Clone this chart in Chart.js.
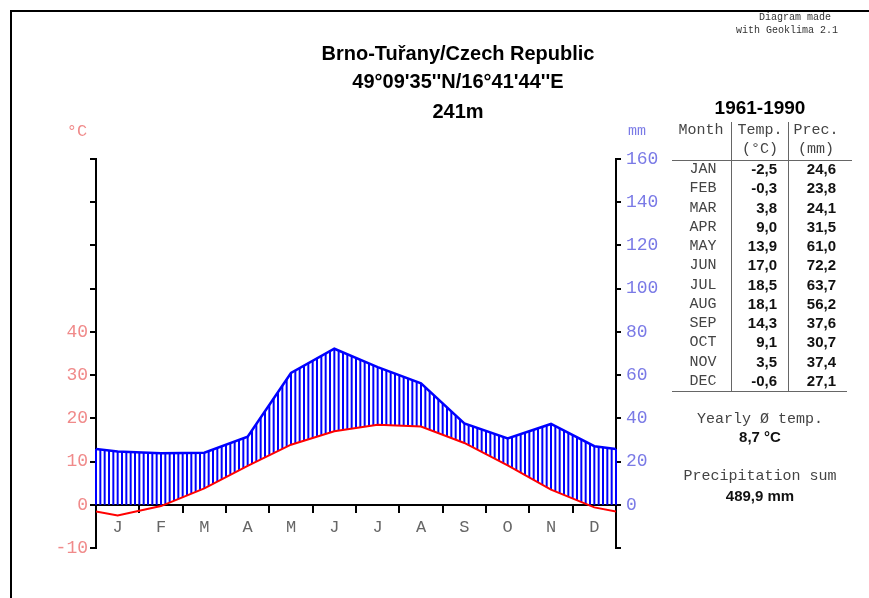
<!DOCTYPE html>
<html>
<head>
<meta charset="utf-8">
<script src="https://cdn.jsdelivr.net/npm/chart.js@4/dist/chart.umd.min.js"></script>
<style>
  body { margin: 0; background: #fff; }
  #page { position: relative; width: 869px; height: 598px; overflow: hidden; }
  #frame { position: absolute; left: 10px; top: 10px; width: 900px; height: 700px;
           border-left: 2px solid #000; border-top: 2px solid #000; }
  #chartBox { position: absolute; left: 0; top: 0; width: 869px; height: 598px; }
  .t { position: absolute; white-space: nowrap; line-height: 20px; height: 20px; }
  .c { transform: translateX(-50%); }
  .r { transform: translateX(-100%); }
  .title { font: bold 20px "Liberation Sans", Arial, sans-serif; color: #000; }
  .mono { font-family: "Liberation Mono", "Courier New", monospace; }
  .val { font: bold 15px "Liberation Sans", Arial, sans-serif; color: #111; }
  .line { position: absolute; background: #666; }
</style>
</head>
<body>
<div id="page">
  <div id="frame"></div>
  <div id="chartBox"><canvas id="climate" width="869" height="598"></canvas></div>
  <div id="texts"></div>
</div>
<script>
// Brno-Tuřany climate normals 1961-1990
const months = ["J", "F", "M", "A", "M", "J", "J", "A", "S", "O", "N", "D"];
const monthNames = ["JAN", "FEB", "MAR", "APR", "MAY", "JUN", "JUL", "AUG", "SEP", "OCT", "NOV", "DEC"];
const temperature = [-2.5, -0.3, 3.8, 9.0, 13.9, 17.0, 18.5, 18.1, 14.3, 9.1, 3.5, -0.6];
const precipitation = [24.6, 23.8, 24.1, 31.5, 61.0, 72.2, 63.7, 56.2, 37.6, 30.7, 37.4, 27.1];
const tempTicks = [-10, 0, 10, 20, 30, 40];
const precTicks = [0, 20, 40, 60, 80, 100, 120, 140, 160];
const yearlyTemp = "8,7 °C";
const precSum = "489,9 mm";

// the diagram wraps around the year: both edges take the Dec/Jan mean
function series(vals) {
  const edge = (vals[0] + vals[11]) / 2;
  return [{ x: 0, y: edge }, ...vals.map((v, i) => ({ x: i + 0.5, y: v })), { x: 12, y: edge }];
}

function interp(points, px) {
  for (let i = 0; i < points.length - 1; i++) {
    const a = points[i], b = points[i + 1];
    if (px >= a.x - 0.01 && px <= b.x + 0.01) {
      const t = (px - a.x) / (b.x - a.x || 1);
      return a.y + (b.y - a.y) * t;
    }
  }
  return points[points.length - 1].y;
}

// vertical blue hatching between precipitation and max(temperature, 0)
const hatchPlugin = {
  id: "hatch",
  beforeDatasetsDraw(chart) {
    const { ctx, chartArea, scales } = chart;
    const tPts = chart.getDatasetMeta(0).data;
    const pPts = chart.getDatasetMeta(1).data;
    const zeroY = scales.y.getPixelForValue(0);
    const step = (scales.x.getPixelForValue(1) - scales.x.getPixelForValue(0)) / 10;
    ctx.save();
    ctx.strokeStyle = "#0000ff";
    ctx.lineWidth = 2;
    for (let k = 0; k <= 120; k++) {
      const px = chartArea.left + k * step;
      const top = interp(pPts, px);
      const bottom = Math.min(interp(tPts, px), zeroY);
      if (top < bottom) {
        ctx.beginPath();
        ctx.moveTo(px, top);
        ctx.lineTo(px, bottom);
        ctx.stroke();
      }
    }
    ctx.restore();
  }
};

const monoFont = { family: "'Liberation Mono', 'Courier New', monospace", size: 18 };

new Chart(document.getElementById("climate"), {
  type: "line",
  data: {
    datasets: [
      {
        label: "Temperature",
        data: series(temperature),
        borderColor: "#ff0000",
        borderWidth: 2,
        pointRadius: 0,
        tension: 0,
        xAxisID: "x",
        yAxisID: "y"
      },
      {
        label: "Precipitation",
        data: series(precipitation),
        borderColor: "#0000ff",
        borderWidth: 2.5,
        pointRadius: 0,
        tension: 0,
        xAxisID: "x",
        yAxisID: "yP"
      }
    ]
  },
  options: {
    responsive: false,
    animation: false,
    layout: { padding: { left: 0, right: 193, top: 159, bottom: 50 } },
    plugins: { legend: { display: false }, tooltip: { enabled: false }, title: { display: false } },
    scales: {
      x: {
        type: "linear",
        min: 0,
        max: 12,
        position: { y: 0 },
        afterBuildTicks: (s) => { s.ticks = months.map((m, i) => ({ value: i })).concat([{ value: 12 }]); },
        ticks: { display: false },
        grid: { drawOnChartArea: false, drawTicks: true, tickLength: 7, color: "#000", lineWidth: 2 },
        border: { display: true, color: "#000", width: 2 }
      },
      xl: {
        type: "linear",
        min: 0,
        max: 12,
        position: { y: 0 },
        afterBuildTicks: (s) => { s.ticks = months.map((m, i) => ({ value: i + 0.5 })); },
        ticks: {
          autoSkip: false,
          maxRotation: 0,
          padding: 13,
          color: "#666",
          font: { family: monoFont.family, size: 17 },
          callback: (v) => months[Math.floor(v)]
        },
        grid: { display: false, drawTicks: false },
        border: { display: false }
      },
      y: {
        type: "linear",
        position: "left",
        min: -10,
        max: 80,
        afterBuildTicks: (s) => { s.ticks = [-10, 0, 10, 20, 30, 40, 50, 60, 70, 80].map((v) => ({ value: v })); },
        afterFit: (s) => { s.width = 96; },
        ticks: {
          color: "#f08a8a",
          font: monoFont,
          padding: 2,
          callback: (v) => (tempTicks.includes(v) ? v : "")
        },
        grid: { drawOnChartArea: false, drawTicks: true, tickLength: 6, color: "#000", lineWidth: 2 },
        border: { display: true, color: "#000", width: 2 }
      },
      yP: {
        type: "linear",
        position: "right",
        min: -20,
        max: 160,
        afterBuildTicks: (s) => { s.ticks = [-20].concat(precTicks).map((v) => ({ value: v })); },
        afterFit: (s) => { s.width = 60; },
        ticks: {
          color: "#7a7ae6",
          font: monoFont,
          padding: 5,
          callback: (v) => (precTicks.includes(v) ? v : "")
        },
        grid: { drawOnChartArea: false, drawTicks: true, tickLength: 5, color: "#000", lineWidth: 2 },
        border: { display: true, color: "#000", width: 2 }
      }
    }
  },
  plugins: [hatchPlugin]
});

// text blocks: title, info note, data table
const texts = document.getElementById("texts");
function put(text, x, y, cls, style) {
  const d = document.createElement("div");
  d.className = "t " + cls;
  d.textContent = text;
  d.style.left = x + "px";
  d.style.top = (y - 10) + "px";
  if (style) Object.assign(d.style, style);
  texts.appendChild(d);
}
function rule(x, y, w, h) {
  const d = document.createElement("div");
  d.className = "line";
  Object.assign(d.style, { left: x + "px", top: y + "px", width: w + "px", height: h + "px" });
  texts.appendChild(d);
}

put("Brno-Tuřany/Czech Republic", 458, 52, "c title");
put("49°09'35''N/16°41'44''E", 458, 80, "c title");
put("241m", 458, 110, "c title");

put("Diagram made", 795, 18, "c mono", { fontSize: "10px", color: "#333" });
put("with Geoklima 2.1", 787, 31, "c mono", { fontSize: "10px", color: "#333" });

put("°C", 77, 132, "c mono", { fontSize: "17px", color: "#f08a8a" });
put("mm", 637, 132, "c mono", { fontSize: "15px", color: "#7a7ae6" });

put("1961-1990", 760, 107, "c title", { fontSize: "19px" });
const headStyle = { fontSize: "15px", color: "#444" };
put("Month", 701, 131, "c mono", headStyle);
put("Temp.", 760, 131, "c mono", headStyle);
put("(°C)", 760, 150, "c mono", headStyle);
put("Prec.", 816, 131, "c mono", headStyle);
put("(mm)", 816, 150, "c mono", headStyle);
rule(672, 160, 180, 1);
rule(672, 391, 175, 1);
rule(731, 122, 1, 270);
rule(788, 122, 1, 270);

monthNames.forEach((m, i) => {
  const y = 170 + i * 19.27;
  put(m, 703, y, "c mono", headStyle);
  put(temperature[i].toFixed(1).replace(".", ","), 777, y, "r val");
  put(precipitation[i].toFixed(1).replace(".", ","), 836, y, "r val");
});

put("Yearly Ø temp.", 760, 420, "c mono", headStyle);
put(yearlyTemp, 760, 438, "c val");
put("Precipitation sum", 760, 477, "c mono", headStyle);
put(precSum, 760, 497, "c val");
</script>
</body>
</html>
